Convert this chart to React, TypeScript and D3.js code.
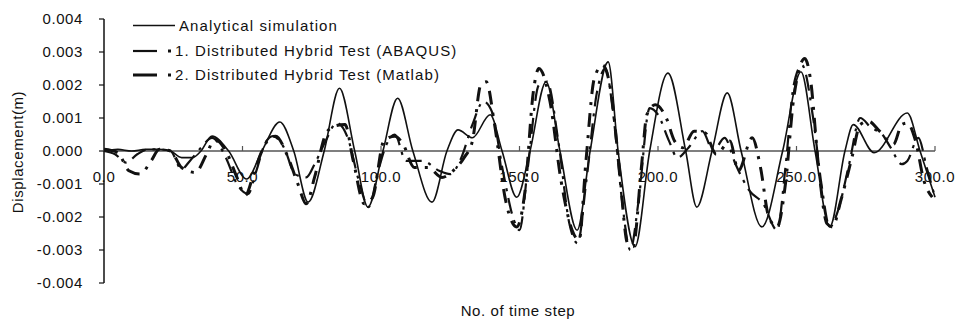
import React, { useEffect, useRef } from "react";
import * as d3 from "d3";

// time steps / displacement (m)
const analyticalStep = [0, 5, 10, 15, 20, 24, 28, 32, 35, 39, 45, 51.5, 57, 63.5, 68.5, 73.7, 79.5, 85, 90.5, 95.3, 100.7, 106, 111.5, 118.4, 123.8, 127.8, 133, 139.4, 143.7, 149, 153.8, 159.6, 164.6, 170.8, 175.5, 182, 185.6, 191.7, 197, 203.6, 210, 214, 219.5, 225, 230, 237.5, 245, 251.6, 256.7, 262, 267.5, 270.5, 278, 290, 294.6, 300];
const analyticalDisp = [0, 0.00005, 0, 0.00005, 0.00005, 0, -0.0002, -0.0002, 0, 0.00045, 0, -0.00085, 0, 0.00088, 0, -0.00155, 0, 0.0019, 0, -0.0017, 0, 0.0016, 0, -0.00155, 0, 0.00064, 0.0004, 0.0011, 0, -0.0014, 0, 0.0021, 0, -0.0024, 0, 0.0027, 0, -0.0029, 0, 0.00236, 0, -0.0017, 0, 0.00176, 0, -0.0023, 0, 0.0024, 0, -0.0023, 0, 0.0008, -0.00005, 0.00115, 0, -0.0014];

const abaqusStep = [0, 4, 8, 12, 16, 20, 24, 28, 31, 35, 39, 44, 48, 52, 55, 58, 61, 65, 69, 73, 76, 80, 84, 88, 92, 95.5, 99, 102, 105, 109, 115, 121, 125, 129, 133, 137, 140, 144, 148, 150, 153, 157, 160, 164, 168, 171, 174, 178, 181, 184, 187, 190, 193, 197, 200, 204, 207, 211, 216, 220, 224, 228, 233, 238, 243, 246, 249, 252, 256, 259, 262, 265, 269, 273, 277, 281, 284, 288, 290, 294, 297, 300];
const abaqusDisp = [0, -0.0001, -0.00035, -0.0001, 0.00005, 0.00005, 0, -0.00055, -0.0003, 0.0001, 0.0004, -0.0002, -0.001, -0.0013, -0.0006, 0.0002, 0.00045, 0.0001, -0.0007, -0.0008, -0.0004, 0.0003, 0.00085, 0.0004, -0.0009, -0.0017, -0.0006, 0.0002, 0.0005, -0.0003, -0.0003, -0.0006, -0.0007, -0.0002, 0.0008, 0.0015, 0.0012, -0.0006, -0.0021, -0.0024, -0.0005, 0.002, 0.0021, 0.0003, -0.0022, -0.0028, -0.001, 0.0018, 0.0025, 0.001, -0.0015, -0.003, -0.0015, 0.0013, 0.0011, 0.0003, -0.0002, 0.0001, 0.0006, 0, 0.0004, -0.0004, -0.0012, -0.0016, -0.0024, -0.0005, 0.002, 0.0026, 0.001, -0.001, -0.0023, -0.0018, -0.0004, 0.001, 0.0007, 0.0005, 0.0001, -0.0004, -0.0003, 0.0004, -0.0005, -0.0014];

const matlabStep = [0, 5, 9, 13, 17, 20, 24, 28, 33, 37, 40, 44, 48, 51, 54, 57, 60, 62, 66, 70, 73, 76, 80, 83, 87, 90, 94, 97, 101, 105, 108, 112, 117, 122, 126, 130, 133, 136, 138, 141, 145, 149, 152, 155, 157, 161, 165, 169, 171.5, 174, 177, 180, 183, 186, 189, 191, 194, 196, 199, 203, 206, 209, 213, 217, 221, 226, 229, 234, 237, 240, 243, 246, 249, 253, 255, 258, 261, 263, 266, 270, 273, 276, 280, 285, 288, 290, 293, 296, 299];
const matlabDisp = [0.00005, -0.00005, -0.0006, -0.0007, -0.0003, 0.00005, 0, -0.0005, -0.00065, -0.0001, 0.00035, 0, -0.0008, -0.00135, -0.0007, 0, 0.0004, 0.00045, -0.0001, -0.001, -0.0016, -0.0008, 0.0005, 0.00075, 0.0008, -0.0003, -0.0016, -0.0014, 0.0003, 0.00045, 0.0002, -0.0005, -0.0005, -0.0008, -0.0006, -0.0002, 0.0003, 0.002, 0.0021, 0.0008, -0.0015, -0.0023, -0.0012, 0.0018, 0.0025, 0.0015, -0.0009, -0.0024, -0.0027, -0.0003, 0.0022, 0.0026, 0.0018, -0.0005, -0.0028, -0.0029, -0.0005, 0.0011, 0.0014, 0.001, 0.0003, 0.0001, 0.0006, 0.00055, -0.0001, 0.0003, -0.0006, 0.0004, -0.0005, -0.002, -0.0023, -0.001, 0.0016, 0.0028, 0.0022, -0.0005, -0.0022, -0.0023, -0.0015, -0.0002, 0.0008, 0.0009, 0.0006, 0.0002, 0.0008, 0.00085, 0.0003, -0.0009, -0.0014];

const yTicks = [0.004, 0.003, 0.002, 0.001, 0, -0.001, -0.002, -0.003, -0.004];
const xTicks = [0, 50, 100, 150, 200, 250, 300];
const legendLabels = [
  "Analytical simulation",
  "1. Distributed Hybrid Test (ABAQUS)",
  "2. Distributed Hybrid Test (Matlab)",
];

const FONT = "'Liberation Sans', Arial, sans-serif";

const App = () => {
  const svgRef = useRef(null);

  useEffect(() => {
    const svg = d3.select(svgRef.current);
    svg.selectAll("*").remove();

    const x = d3.scaleLinear().domain([0, 300]).range([104, 935]);
    const y = d3.scaleLinear().domain([-0.004, 0.004]).range([283, 19]);

    const ink = "#111";

    // y axis
    svg.append("line")
      .attr("x1", x(0)).attr("x2", x(0))
      .attr("y1", y(0.004)).attr("y2", y(-0.004))
      .attr("stroke", ink).attr("stroke-width", 1.5);

    svg.selectAll(".ytick")
      .data(yTicks)
      .enter()
      .append("line")
      .attr("x1", x(0) - 5).attr("x2", x(0))
      .attr("y1", (d) => y(d)).attr("y2", (d) => y(d))
      .attr("stroke", ink).attr("stroke-width", 1.2);

    svg.selectAll(".ylab")
      .data(yTicks)
      .enter()
      .append("text")
      .attr("x", 83)
      .attr("y", (d) => y(d))
      .attr("dy", "0.35em")
      .attr("text-anchor", "end")
      .style("font-family", FONT)
      .style("font-size", "15px")
      .style("letter-spacing", "0.6px")
      .attr("fill", ink)
      .text((d) => d3.format(".3f")(d).replace("−", "-"));

    // x axis along zero
    svg.append("line")
      .attr("x1", x(0)).attr("x2", x(300))
      .attr("y1", y(0)).attr("y2", y(0))
      .attr("stroke", "#555").attr("stroke-width", 1.3);

    svg.selectAll(".xtick")
      .data(xTicks)
      .enter()
      .append("line")
      .attr("x1", (d) => x(d)).attr("x2", (d) => x(d))
      .attr("y1", y(0) - 5).attr("y2", y(0))
      .attr("stroke", "#555").attr("stroke-width", 1.2);

    svg.selectAll(".xlab")
      .data(xTicks)
      .enter()
      .append("text")
      .attr("x", (d) => x(d))
      .attr("y", 182)
      .attr("text-anchor", "middle")
      .style("font-family", FONT)
      .style("font-size", "15px")
      .style("letter-spacing", "0.6px")
      .attr("fill", ink)
      .text((d) => d3.format(".1f")(d));

    // titles
    svg.append("text")
      .attr("transform", "translate(23,152) rotate(-90)")
      .attr("text-anchor", "middle")
      .style("font-family", FONT)
      .style("font-size", "15px")
      .style("letter-spacing", "0.6px")
      .attr("fill", ink)
      .text("Displacement(m)");

    svg.append("text")
      .attr("x", 518)
      .attr("y", 316)
      .attr("text-anchor", "middle")
      .style("font-family", FONT)
      .style("font-size", "15px")
      .style("letter-spacing", "0.6px")
      .attr("fill", ink)
      .text("No. of time step");

    const line = d3.line()
      .x((d) => x(d[0]))
      .y((d) => y(d[1]))
      .curve(d3.curveMonotoneX);

    const series = [
      { steps: analyticalStep, vals: analyticalDisp, width: 1.6, dash: null },
      { steps: abaqusStep, vals: abaqusDisp, width: 2.2, dash: "16,7,3,7" },
      { steps: matlabStep, vals: matlabDisp, width: 3, dash: "14,8,3,8" },
    ];

    series.forEach((s) => {
      const pts = s.steps.map((t, i) => [t, s.vals[i]]);
      const p = svg.append("path")
        .datum(pts)
        .attr("d", line)
        .attr("fill", "none")
        .attr("stroke", ink)
        .attr("stroke-width", s.width)
        .attr("stroke-linejoin", "round");
      if (s.dash) p.attr("stroke-dasharray", s.dash);
    });

    // legend
    const rowY = [25.5, 51, 75];
    legendLabels.forEach((lab, i) => {
      const s = series[i];
      if (i === 0) {
        svg.append("line")
          .attr("x1", 133).attr("x2", 175)
          .attr("y1", rowY[i]).attr("y2", rowY[i])
          .attr("stroke", ink).attr("stroke-width", 1.6);
      } else {
        svg.append("line")
          .attr("x1", 133).attr("x2", 157)
          .attr("y1", rowY[i]).attr("y2", rowY[i])
          .attr("stroke", ink).attr("stroke-width", s.width);
        svg.append("rect")
          .attr("x", 168).attr("y", rowY[i] - 1.5)
          .attr("width", 3).attr("height", 3)
          .attr("fill", ink);
      }
      svg.append("text")
        .attr("x", i === 0 ? 179 : 175)
        .attr("y", rowY[i] + 5)
        .style("font-family", FONT)
        .style("font-size", "15px")
        .style("letter-spacing", "1.1px")
        .attr("fill", ink)
        .text(lab);
    });
  }, []);

  return (
    <svg
      ref={svgRef}
      width={955}
      height={320}
      style={{ position: "absolute", left: 0, top: 0, background: "#fff" }}
    ></svg>
  );
};

export default App;
